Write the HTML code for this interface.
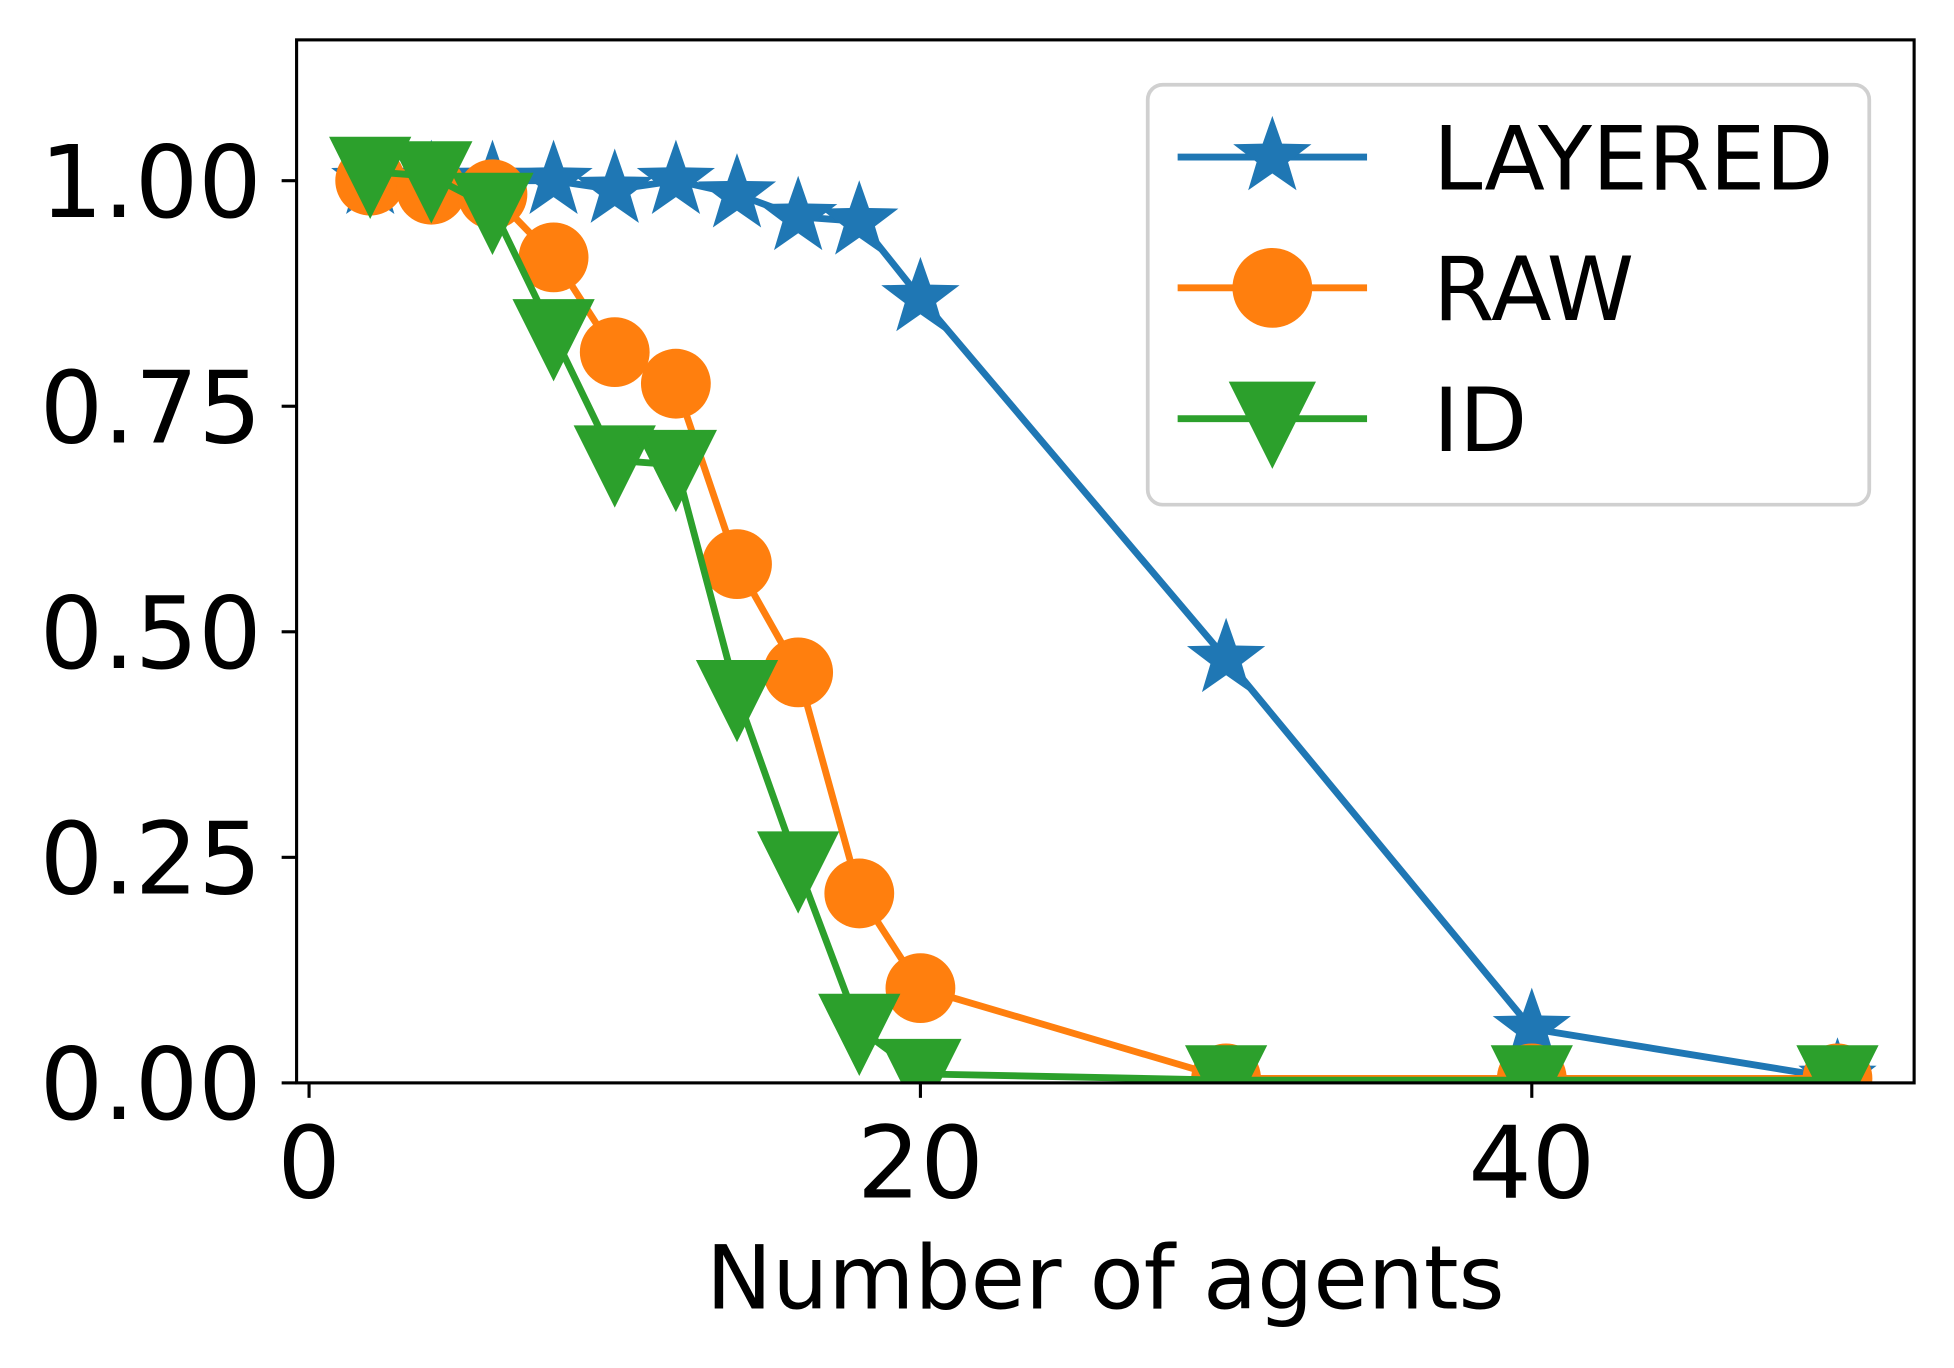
<!DOCTYPE html>
<html><head><meta charset="utf-8"><style>
html,body{margin:0;padding:0;background:#fff;}
svg{display:block;font-family:"DejaVu Sans","Liberation Sans",sans-serif;}
</style></head><body>
<svg id="chart" width="1954" height="1368" viewBox="0 0 1568 1097.8" preserveAspectRatio="none" xmlns="http://www.w3.org/2000/svg">
<rect width="1568" height="1098" fill="#fff"/>
<g id="plot"></g>
</svg>
<script>
const agents = [2,4,6,8,10,12,14,16,18,20,30,40,50];
const layered = [1.0,1.0,1.0,1.0,0.99,1.0,0.985,0.96,0.955,0.87,0.47,0.06,0.005];
const raw = [1.0,0.99,0.985,0.915,0.81,0.775,0.575,0.455,0.21,0.105,0.005,0.005,0.005];
const idv = [1.01,1.005,0.97,0.83,0.69,0.685,0.43,0.24,0.06,0.01,0.003,0.003,0.003];
const xTicks = [0,20,40];
const yTicks = [0,0.25,0.5,0.75,1.0];
const yTickLabels = ["0.00","0.25","0.50","0.75","1.00"];

const L=238,R=1536,T=32,B=869;
const sx = v => 248 + v*24.53;
const sy = v => 869 - v*724;
const NS="http://www.w3.org/2000/svg";
const g=document.getElementById('plot');
function mk(tag,attrs,parent){const e=document.createElementNS(NS,tag);for(const k in attrs)e.setAttribute(k,attrs[k]);(parent||g).appendChild(e);return e;}

const clip=mk('clipPath',{id:'clip'});mk('rect',{x:L,y:T,width:R-L,height:B-T},clip);

function starPath(cx,cy,r){let d='';for(let i=0;i<10;i++){const rr=i%2?r*0.4:r;const a=-Math.PI/2+i*Math.PI/5;d+=(i?'L':'M')+(cx+rr*Math.cos(a)).toFixed(1)+' '+(cy+rr*Math.sin(a)).toFixed(1);}return d+'Z';}
function triPath(cx,cy,r){return `M${cx-r} ${cy-r*0.85}L${cx+r} ${cy-r*0.85}L${cx} ${cy+r*1.15}Z`;}

const series=[
 {name:'layered',vals:layered,color:'#1f77b4',m:'star'},
 {name:'raw',vals:raw,color:'#ff7f0e',m:'circle'},
 {name:'id',vals:idv,color:'#2ca02c',m:'tri'}];
const sg=mk('g',{'clip-path':'url(#clip)'});
series.forEach(s=>{
  const pts=agents.map((a,i)=>sx(a)+','+sy(s.vals[i])).join(' ');
  const line=mk('polyline',{points:pts,fill:'none',stroke:s.color,'stroke-width':5.5,'stroke-linejoin':'round'},sg);
  
  
  agents.forEach((a,i)=>{
    const cx=sx(a),cy=sy(s.vals[i]);let e;
    if(s.m==='circle')e=mk('circle',{cx:cx,cy:cy,r:28,fill:s.color},sg);
    else if(s.m==='star')e=mk('path',{d:starPath(cx,cy,33),fill:s.color},sg);
    else e=mk('path',{d:triPath(cx,cy,33),fill:s.color},sg);
    
    
  });
});

const frame=mk('rect',{x:L,y:T,width:R-L,height:B-T,fill:'none',stroke:'#000','stroke-width':2.5});



xTicks.forEach(v=>{
  mk('line',{x1:sx(v),x2:sx(v),y1:B,y2:B+12,stroke:'#000','stroke-width':2.5});
  const t=mk('text',{x:sx(v),y:B+92,'font-size':80,'text-anchor':'middle',fill:'#000'});t.textContent=v;
  
  
});
yTicks.forEach((v,i)=>{
  mk('line',{x1:L-12,x2:L,y1:sy(v),y2:sy(v),stroke:'#000','stroke-width':2.5});
  const t=mk('text',{x:L-28,y:sy(v)+29,'font-size':80,'text-anchor':'end',fill:'#000'});t.textContent=yTickLabels[i];
  
  
});
const xt=mk('text',{x:887,y:1050,'font-size':71,'text-anchor':'middle',fill:'#000'});xt.textContent='Number of agents';



const lg=mk('g',{});


mk('rect',{x:921,y:68,width:579,height:337,rx:12,fill:'#fff','fill-opacity':0.8,stroke:'#d0d0d0','stroke-width':3},lg);
const labels=['LAYERED','RAW','ID'];
series.forEach((s,i)=>{
  const y=126+i*105;
  const e=mk('g',{},lg);
  
  
  mk('line',{x1:945,x2:1097,y1:y,y2:y,stroke:s.color,'stroke-width':5.5},e);
  if(s.m==='circle')mk('circle',{cx:1021,cy:y,r:32,fill:s.color},e);
  else if(s.m==='star')mk('path',{d:starPath(1021,y,33),fill:s.color},e);
  else mk('path',{d:triPath(1021,y,35),fill:s.color},e);
  const t=mk('text',{x:1150,y:y+26,'font-size':71,fill:'#000'},e);t.textContent=labels[i];
});
</script>
</body></html>
